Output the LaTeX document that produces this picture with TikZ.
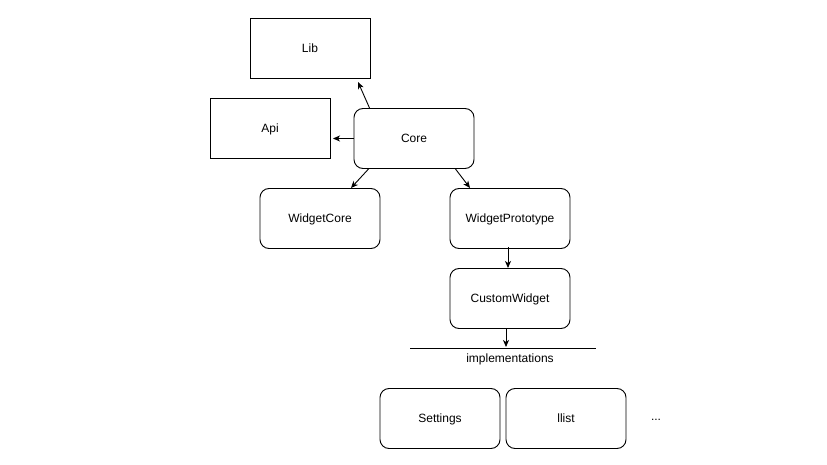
\documentclass[tikz,border=0pt]{standalone}
\usepackage{fontspec}
\setmainfont{Liberation Sans}
\usetikzlibrary{arrows.meta,calc}
\begin{document}
\begin{tikzpicture}[x=1pt,y=-1pt,
  box/.style={draw,line width=0.9pt,minimum width=120pt,minimum height=60pt,inner sep=0pt,font=\fontsize{12}{14}\selectfont,text depth=0.6pt},
  rbox/.style={box,rounded corners=9pt},
  lbl/.style={inner sep=0pt,font=\fontsize{12}{14}\selectfont},
  arr/.style={line width=0.9pt,-{Stealth[length=7pt,width=6pt,inset=2pt]}}]
\useasboundingbox (0,0) rectangle (827,465);
\node[box] (lib) at (310,48.5) {Lib};
\node[box] (api) at (270,128.5) {Api};
\node[rbox] (core) at (414,138.5) {Core};
\node[rbox] (wcore) at (320,218.5) {WidgetCore};
\node[rbox] (wproto) at (510,218.5) {WidgetPrototype};
\node[rbox] (cw) at (510,298.5) {CustomWidget};
\coordinate (impl1) at (410,348.5);
\coordinate (impl2) at (596,348.5);
\draw[line width=0.9pt] (impl1) -- (impl2);
\node[lbl] (impl) at (510,359.5) {implementations};
\node[rbox] (set) at (440,418.5) {Settings};
\node[rbox] (llist) at (566,418.5) {llist};
\node[lbl] (dots) at (656,419.5) {...};
\coordinate (libend) at (358,82);
\coordinate (apiend) at (333,138.5);
\coordinate (wcend) at (351,188);
\coordinate (wpend) at (470,188);
\coordinate (cwend) at (508,268);
\coordinate (lineend) at (506,347);
\draw[arr] ([xshift=16pt]core.north west) -- (libend);
\draw[arr] (core.west) -- (apiend);
\draw[arr] ([xshift=15pt]core.south west) -- (wcend);
\draw[arr] ([xshift=-19pt]core.south east) -- (wpend);
\draw[arr] ([xshift=-2pt,yshift=2pt]wproto.south) -- (cwend);
\draw[arr] ([xshift=-4pt]cw.south) -- (lineend);
\end{tikzpicture}
\end{document}
